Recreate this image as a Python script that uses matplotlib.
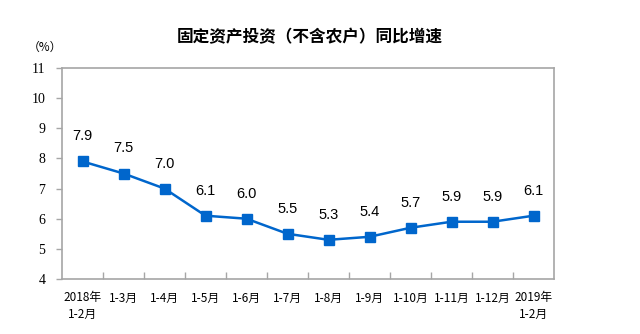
import matplotlib
matplotlib.use("Agg")
import matplotlib.pyplot as plt

plt.rcParams['font.family'] = ['Noto Sans CJK SC', 'DejaVu Sans']

# data
periods = ['2018年\n1-2月', '1-3月', '1-4月', '1-5月', '1-6月', '1-7月',
           '1-8月', '1-9月', '1-10月', '1-11月', '1-12月', '2019年\n1-2月']
growth = [7.9, 7.5, 7.0, 6.1, 6.0, 5.5, 5.3, 5.4, 5.7, 5.9, 5.9, 6.1]
yticks = [4, 5, 6, 7, 8, 9, 10, 11]

blue = '#0066CC'
grey = '#A6A6A6'

fig = plt.figure(figsize=(6.4, 3.34), dpi=100)
ax = fig.add_axes([62/640, 1-279/334, 492/640, 211/334])

x = list(range(len(growth)))
ax.plot(x, growth, color=blue, lw=1.8, marker='s', ms=6.5,
        markerfacecolor=blue, markeredgecolor=blue, zorder=3)

for xi, v in zip(x, growth):
    ax.annotate(f'{v:.1f}', (xi, v), xytext=(0, 13), textcoords='offset points',
                ha='center', va='bottom', fontsize=10.5, family='Liberation Sans',
                color='black')

ax.set_xlim(-0.5, len(growth)-0.5)
ax.set_ylim(4, 11)
ax.set_yticks(yticks)
ax.set_yticklabels([str(t) for t in yticks], family='Liberation Serif', fontsize=10)
ax.tick_params(axis='y', direction='out', length=4, color=grey, width=1, pad=8)

# category ticks sit between categories, pointing in
ax.set_xticks([i + 0.5 for i in range(len(growth)-1)])
ax.set_xticklabels([])
ax.tick_params(axis='x', direction='in', length=5, color=grey, width=1)
ax.set_xticks(x, minor=True)
ax.set_xticklabels(periods, minor=True, fontsize=8.5, linespacing=1.35)
ax.tick_params(axis='x', which='minor', length=0, pad=9)

for s in ax.spines.values():
    s.set_color(grey)
    s.set_linewidth(1.2)

fig.text(310/640, 1-37/334, '固定资产投资（不含农户）同比增速', ha='center', va='center',
         fontsize=12, fontweight='bold')
fig.text(45/640, 1-47/334, '（%）', ha='center', va='center', fontsize=8.5)

fig.savefig('out.png', dpi=100)
